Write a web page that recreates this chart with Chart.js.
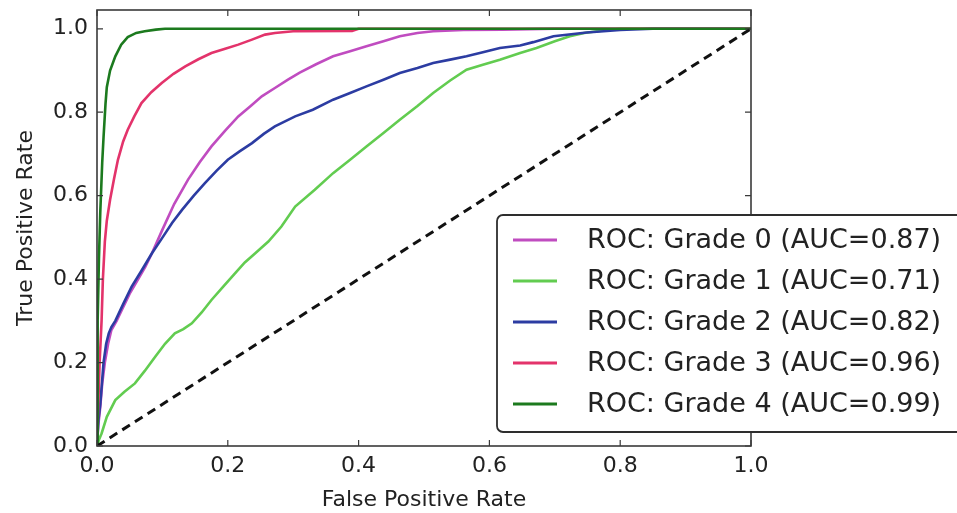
<!DOCTYPE html>
<html>
<head>
<meta charset="utf-8">
<script src="https://cdn.jsdelivr.net/npm/chart.js@4.4.1/dist/chart.umd.min.js"></script>
<style>
  html, body { margin: 0; padding: 0; background: #ffffff; }
  #wrap { position: relative; width: 957px; height: 513px; }
</style>
</head>
<body>
<div id="wrap"><canvas id="c"></canvas></div>
<script>
// ---- data ----
const seriesLabels = [
  "ROC: Grade 0 (AUC=0.87)",
  "ROC: Grade 1 (AUC=0.71)",
  "ROC: Grade 2 (AUC=0.82)",
  "ROC: Grade 3 (AUC=0.96)",
  "ROC: Grade 4 (AUC=0.99)"
];
const seriesColors = ["#c04cc0", "#62cc50", "#2c3ca2", "#e3336b", "#1c7a1e"];

const fpr0 = [0, 0.002, 0.005, 0.008, 0.012, 0.017, 0.022, 0.030, 0.038, 0.050, 0.063, 0.074, 0.084, 0.099, 0.118, 0.139, 0.157, 0.175, 0.196, 0.216, 0.235, 0.252, 0.272, 0.292, 0.310, 0.335, 0.361, 0.387, 0.412, 0.438, 0.463, 0.490, 0.514, 0.560, 0.620, 0.700, 1.0];
const tpr0 = [0, 0.050, 0.094, 0.150, 0.200, 0.245, 0.278, 0.300, 0.326, 0.365, 0.400, 0.430, 0.462, 0.515, 0.580, 0.638, 0.680, 0.718, 0.756, 0.790, 0.815, 0.838, 0.858, 0.878, 0.895, 0.915, 0.934, 0.946, 0.958, 0.970, 0.982, 0.990, 0.994, 0.997, 0.998, 1.0, 1.0];

const fpr1 = [0, 0.003, 0.007, 0.015, 0.028, 0.042, 0.058, 0.073, 0.089, 0.104, 0.119, 0.132, 0.145, 0.160, 0.175, 0.193, 0.211, 0.226, 0.242, 0.262, 0.282, 0.303, 0.333, 0.361, 0.387, 0.412, 0.438, 0.463, 0.490, 0.514, 0.540, 0.565, 0.590, 0.616, 0.647, 0.672, 0.700, 0.723, 0.745, 0.764, 0.800, 1.0];
const tpr1 = [0, 0.015, 0.030, 0.070, 0.110, 0.130, 0.150, 0.180, 0.214, 0.245, 0.270, 0.280, 0.294, 0.320, 0.350, 0.382, 0.414, 0.440, 0.462, 0.490, 0.526, 0.574, 0.614, 0.654, 0.686, 0.718, 0.750, 0.782, 0.815, 0.846, 0.876, 0.902, 0.914, 0.926, 0.942, 0.954, 0.970, 0.982, 0.990, 0.994, 1.0, 1.0];

const fpr2 = [0, 0.002, 0.005, 0.010, 0.014, 0.018, 0.022, 0.028, 0.040, 0.053, 0.068, 0.084, 0.099, 0.115, 0.130, 0.148, 0.165, 0.183, 0.200, 0.218, 0.237, 0.255, 0.272, 0.303, 0.330, 0.361, 0.387, 0.412, 0.438, 0.463, 0.490, 0.514, 0.540, 0.565, 0.590, 0.616, 0.647, 0.667, 0.698, 0.749, 0.800, 0.850, 1.0];
const tpr2 = [0, 0.060, 0.100, 0.200, 0.245, 0.270, 0.285, 0.300, 0.340, 0.382, 0.420, 0.462, 0.497, 0.535, 0.566, 0.600, 0.630, 0.660, 0.686, 0.706, 0.726, 0.748, 0.766, 0.790, 0.806, 0.830, 0.846, 0.862, 0.878, 0.894, 0.906, 0.918, 0.926, 0.934, 0.944, 0.954, 0.960, 0.968, 0.982, 0.991, 0.997, 1.0, 1.0];

const fpr3 = [0, 0.002, 0.004, 0.007, 0.009, 0.012, 0.015, 0.020, 0.026, 0.032, 0.040, 0.047, 0.057, 0.068, 0.083, 0.099, 0.117, 0.135, 0.155, 0.175, 0.196, 0.216, 0.237, 0.257, 0.272, 0.300, 0.390, 0.400, 1.0];
const tpr3 = [0, 0.100, 0.200, 0.300, 0.400, 0.490, 0.540, 0.590, 0.640, 0.686, 0.730, 0.758, 0.790, 0.822, 0.848, 0.870, 0.892, 0.910, 0.927, 0.942, 0.952, 0.962, 0.974, 0.986, 0.990, 0.994, 0.995, 1.0, 1.0];

const fpr4 = [0, 0.001, 0.003, 0.005, 0.008, 0.010, 0.013, 0.015, 0.020, 0.028, 0.037, 0.047, 0.060, 0.073, 0.090, 0.104, 1.0];
const tpr4 = [0, 0.300, 0.450, 0.560, 0.680, 0.740, 0.820, 0.860, 0.900, 0.934, 0.962, 0.980, 0.990, 0.994, 0.998, 1.0, 1.0];

const chanceX = [0, 1];
const chanceY = [0, 1];

const xTicks = [0, 0.2, 0.4, 0.6, 0.8, 1.0];
const yTicks = [0, 0.2, 0.4, 0.6, 0.8, 1.0];
const xTitle = "False Positive Rate";
const yTitle = "True Positive Rate";

// ---- build datasets ----
function pts(xs, ys) { return xs.map((x, i) => ({ x: x, y: ys[i] })); }
const allX = [fpr0, fpr1, fpr2, fpr3, fpr4];
const allY = [tpr0, tpr1, tpr2, tpr3, tpr4];

const datasets = seriesLabels.map((lab, i) => ({
  label: lab,
  data: pts(allX[i], allY[i]),
  borderColor: seriesColors[i],
  borderWidth: 2.6,
  pointRadius: 0,
  tension: 0,
  fill: false,
  order: 10 - i
}));
datasets.push({
  label: "chance",
  data: pts(chanceX, chanceY),
  borderColor: "#111111",
  borderWidth: 3,
  borderDash: [9, 6],
  pointRadius: 0,
  fill: false,
  order: -1,
  isChance: true
});

const FONT = "'DejaVu Sans', 'Liberation Sans', sans-serif";
const frameColor = "#3a3a3a";

// frame + inward ticks (matplotlib style)
const framePlugin = {
  id: "frame",
  afterDatasetsDraw(chart) {
    const { ctx, chartArea: a, scales } = chart;
    ctx.save();
    ctx.strokeStyle = frameColor;
    ctx.lineWidth = 1.6;
    ctx.strokeRect(a.left, a.top, a.right - a.left, a.bottom - a.top);
    const tl = 6;
    ctx.lineWidth = 1.2;
    ctx.beginPath();
    xTicks.forEach(v => {
      const px = scales.x.getPixelForValue(v);
      ctx.moveTo(px, a.bottom); ctx.lineTo(px, a.bottom - tl);
      ctx.moveTo(px, a.top); ctx.lineTo(px, a.top + tl);
    });
    yTicks.forEach(v => {
      const py = scales.y.getPixelForValue(v);
      ctx.moveTo(a.left, py); ctx.lineTo(a.left + tl, py);
      ctx.moveTo(a.right, py); ctx.lineTo(a.right - tl, py);
    });
    ctx.stroke();
    ctx.restore();
  }
};

// legend box drawn like the matplotlib one
const legendPlugin = {
  id: "mplLegend",
  afterDraw(chart) {
    const { ctx } = chart;
    const items = chart.data.datasets.filter(d => !d.isChance);
    const boxL = 497, boxT = 215, boxW = 470, boxH = 217, r = 6;
    const rowY0 = 240, rowStep = 41;
    ctx.save();
    ctx.beginPath();
    ctx.moveTo(boxL + r, boxT);
    ctx.lineTo(boxL + boxW - r, boxT);
    ctx.arcTo(boxL + boxW, boxT, boxL + boxW, boxT + r, r);
    ctx.lineTo(boxL + boxW, boxT + boxH - r);
    ctx.arcTo(boxL + boxW, boxT + boxH, boxL + boxW - r, boxT + boxH, r);
    ctx.lineTo(boxL + r, boxT + boxH);
    ctx.arcTo(boxL, boxT + boxH, boxL, boxT + boxH - r, r);
    ctx.lineTo(boxL, boxT + r);
    ctx.arcTo(boxL, boxT, boxL + r, boxT, r);
    ctx.closePath();
    ctx.fillStyle = "#ffffff";
    ctx.fill();
    ctx.strokeStyle = "#2e2e2e";
    ctx.lineWidth = 1.8;
    ctx.stroke();
    items.forEach((d, i) => {
      const y = rowY0 + i * rowStep;
      ctx.strokeStyle = d.borderColor;
      ctx.lineWidth = 3;
      ctx.beginPath();
      ctx.moveTo(513, y); ctx.lineTo(557, y);
      ctx.stroke();
      ctx.fillStyle = "#222222";
      ctx.font = "27px " + FONT;
      ctx.textBaseline = "middle";
      ctx.textAlign = "left";
      ctx.fillText(d.label, 587, y + 1);
    });
    ctx.restore();
  }
};

new Chart(document.getElementById("c"), {
  type: "line",
  data: { datasets: datasets },
  options: {
    responsive: true,
    maintainAspectRatio: false,
    animation: false,
    layout: { padding: { left: 0, top: 10, right: 206, bottom: 0 } },
    plugins: { legend: { display: false }, tooltip: { enabled: false } },
    scales: {
      x: {
        type: "linear",
        min: 0, max: 1,
        afterBuildTicks: s => { s.ticks = xTicks.map(v => ({ value: v })); },
        afterFit: s => { s.height = 67; s.paddingLeft = 0; s.paddingRight = 0; },
        grid: { display: false, drawTicks: false },
        border: { display: false },
        ticks: {
          padding: 7,
          color: "#222222",
          font: { family: FONT, size: 22 },
          maxRotation: 0,
          callback: v => Number(v).toFixed(1)
        },
        title: {
          display: true,
          text: xTitle,
          color: "#222222",
          font: { family: FONT, size: 22 },
          padding: { top: 0, bottom: 0 }
        }
      },
      y: {
        type: "linear",
        min: 0, max: 1.045,
        afterBuildTicks: s => { s.ticks = yTicks.map(v => ({ value: v })); },
        afterFit: s => { s.width = 97; s.paddingTop = 0; s.paddingBottom = 0; },
        grid: { display: false, drawTicks: false },
        border: { display: false },
        ticks: {
          padding: 9,
          color: "#222222",
          font: { family: FONT, size: 22 },
          callback: v => Number(v).toFixed(1)
        },
        title: {
          display: true,
          text: yTitle,
          color: "#222222",
          font: { family: FONT, size: 22 },
          padding: { top: 13, bottom: 0 }
        }
      }
    }
  },
  plugins: [framePlugin, legendPlugin]
});
</script>
</body>
</html>
